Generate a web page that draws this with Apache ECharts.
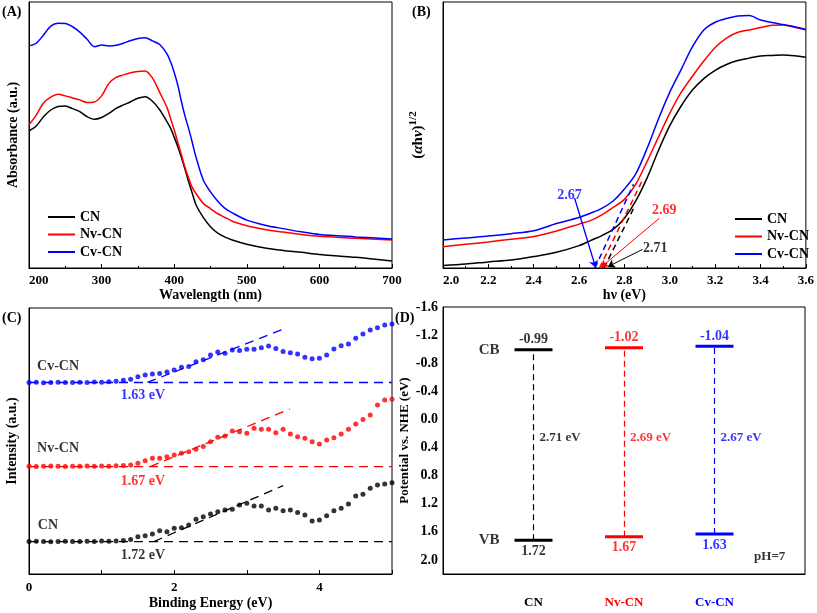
<!DOCTYPE html>
<html><head><meta charset="utf-8">
<script src="https://cdn.jsdelivr.net/npm/echarts@6/dist/echarts.min.js"></script>
<style>html,body{margin:0;padding:0;background:#fff;}#c{width:817px;height:613px;}</style>
</head><body><div id="c"></div>
<script>
// ---------- Shared ----------
const samples = ['CN', 'Nv-CN', 'Cv-CN'];
const colors = ['#000000', '#ff0000', '#0000ff'];

// ---------- Panel A : UV-vis absorbance ----------
const wavelength = [200,210,220,230,240,250,260,270,280,290,300,310,320,330,340,350,360,370,380,390,395,400,405,410,415,420,425,430,440,450,460,470,480,500,525,550,575,600,650,700];
const absCN = [51.6,53.4,56.9,59.4,60.7,60.9,59.9,58.8,56.9,55.9,56.6,58.1,60.0,61.3,62.5,63.8,64.4,62.7,59.5,55.0,52.6,49.2,45.6,41.5,37.0,32.3,28.0,23.8,19.0,15.5,13.1,11.6,10.5,8.9,7.5,6.6,5.9,5.1,4.0,2.6];
const absNv = [53.8,57.5,62.0,64.2,65.3,64.7,63.9,63.2,62.2,62.4,64.7,69.4,71.7,72.6,73.4,73.9,74.1,71.5,66.0,60.4,56.2,52.0,47.2,42.5,37.7,33.7,30.2,28.0,24.3,22.3,20.4,19.0,17.6,15.9,14.5,13.5,12.6,11.9,11.2,10.5];
const absCv = [83.5,84.5,87.6,90.9,92.0,91.9,90.7,88.7,86.0,83.2,83.8,83.5,83.7,84.5,85.5,86.3,86.6,85.4,84.0,80.5,77.5,73.5,68.7,62.5,57.0,52.3,47.1,41.7,33.1,28.6,25.1,22.4,20.7,18.0,16.1,14.8,13.6,12.6,11.7,10.9];

// ---------- Panel B : Tauc plot ----------
const photonEnergy = [2.0,2.1,2.2,2.3,2.4,2.5,2.6,2.65,2.7,2.75,2.8,2.85,2.9,2.95,3.0,3.05,3.1,3.15,3.2,3.25,3.3,3.35,3.4,3.45,3.5,3.55,3.6];
const taucCN = [0.9,1.5,2.3,3.0,4.3,5.9,8.4,10.3,12.2,14.5,18.7,25.2,33.9,44.2,53.5,60.9,66.9,71.2,74.3,76.5,78.0,78.9,79.7,79.9,80.1,79.8,79.2];
const taucNv = [8.0,8.9,9.8,10.8,11.8,13.9,16.5,17.8,20.0,22.8,25.8,31.5,40.1,49.2,58.2,66.0,72.1,77.8,82.9,86.4,88.6,89.5,90.4,91.3,91.4,90.5,89.5];
const taucCv = [10.5,11.3,12.0,12.9,14.0,16.7,19.0,20.6,22.4,25.2,29.7,35.4,45.0,56.0,66.1,74.6,83.2,89.5,92.4,93.8,94.7,94.9,93.2,92.3,91.5,90.7,89.7];
const bandGap = [2.71, 2.69, 2.67];
const tangentTopB = [[2.844, 23.0], [2.88, 33.1], [2.84, 31.5]];
const arrowFromB = [[2.88, 7.0], [2.954, 18.7], [2.58, 26.3]];
const arrowToB = [[2.727, 0.5], [2.697, 0.3], [2.673, 0.2]];
const gapLabelPosB = [[2.936, 7.5], [2.976, 21.8], [2.558, 27.4]];

// ---------- Panel C : VB-XPS ----------
const bindingEnergy = [0.0,0.1,0.2,0.3,0.4,0.5,0.6,0.7,0.8,0.9,1.0,1.1,1.2,1.3,1.4,1.5,1.6,1.7,1.8,1.9,2.0,2.1,2.2,2.3,2.4,2.5,2.6,2.7,2.8,2.9,3.0,3.1,3.2,3.3,3.4,3.5,3.6,3.7,3.8,3.9,4.0,4.1,4.2,4.3,4.4,4.5,4.6,4.7,4.8,4.9,5.0];
const xpsCN = [12.2,12.3,12.2,12.1,12.2,12.3,12.2,12.2,12.3,12.2,12.4,12.3,12.4,12.6,13.0,14.0,14.4,15.0,16.3,15.9,17.2,17.4,18.4,20.6,21.5,22.6,23.4,24.1,24.3,25.9,26.6,25.6,25.6,24.1,24.7,23.8,24.1,23.1,22.2,19.9,20.3,21.9,23.8,24.7,26.3,29.3,30.0,32.2,33.5,33.8,34.3];
const xpsNv = [40.5,40.4,40.5,40.6,40.5,40.4,40.5,40.5,40.6,40.5,40.6,40.5,40.7,40.8,41.0,41.6,42.6,43.5,43.5,44.1,44.7,45.4,46.0,46.9,47.9,49.7,51.4,51.9,53.8,53.5,52.9,54.8,54.4,54.4,53.1,54.4,52.6,51.6,51.0,49.7,48.9,50.4,51.2,52.6,54.4,56.4,58.1,59.8,63.5,65.4,65.7];
const xpsCv = [72.0,72.1,71.9,72.0,72.1,72.0,72.0,72.1,72.0,72.2,72.1,72.3,72.5,72.8,73.2,74.2,74.8,75.2,75.4,75.9,76.7,77.7,78.0,79.8,80.5,82.3,83.5,83.0,84.2,84.0,84.5,84.5,85.1,85.7,84.8,83.6,83.2,82.7,81.5,80.9,81.1,82.3,84.6,85.8,86.5,88.6,90.2,91.7,92.6,93.6,94.0];
const xpsBaseline = [12.2, 40.4, 72.0];
const vbOnset = [1.72, 1.67, 1.63];
const tangentEndC = [[3.50, 33.2], [3.59, 62.0], [3.50, 92.0]];
const sampleLabelPosC = [[0.26, 18.4], [0.40, 47.3], [0.40, 78.2]];
const onsetLabelPosC = [[1.57, 7.1], [1.57, 34.7], [1.57, 67.0]];

// ---------- Panel D : band structure ----------
const bandPos = [1, 2, 3];
const cbPotential = [-0.99, -1.02, -1.04];
const vbPotential = [1.72, 1.67, 1.63];
const gapLabelY = 0.26;

const FONT = "'Liberation Serif','Times New Roman',serif";
const txt = (size, color) => ({fontFamily: FONT, fontWeight: 'bold', fontSize: size, color: color || '#000'});
const zip = (xs, ys) => xs.map((x, i) => [x, ys[i]]);

const gridBase = {show: true, borderColor: '#000', borderWidth: 1, backgroundColor: '#fff', containLabel: false};
const grid = [
  Object.assign({left: 29, top: 2, width: 363, height: 266}, gridBase),
  Object.assign({left: 443, top: 2, width: 364, height: 266}, gridBase),
  Object.assign({left: 29, top: 308, width: 363, height: 266}, gridBase),
  Object.assign({left: 443, top: 307, width: 362, height: 267}, gridBase)
];

const axisLine = {show: true, onZero: false, lineStyle: {color: '#000', width: 1}};
const tickIn = {show: true, inside: true, length: 4, lineStyle: {color: '#000', width: 1}};

const xAxis = [
  {gridIndex: 0, type: 'value', min: 200, max: 700, interval: 100, axisLine, axisTick: tickIn,
   minorTick: {show: true, splitNumber: 2, length: 2, lineStyle: {color: '#000'}}, splitLine: {show: false},
   axisLabel: Object.assign({margin: 6, alignMinLabel: 'left'}, txt(13)),
   name: 'Wavelength (nm)', nameLocation: 'middle', nameGap: 18, nameTextStyle: txt(14)},
  {gridIndex: 1, type: 'value', min: 2.0, max: 3.6, interval: 0.2, axisLine, axisTick: tickIn,
   minorTick: {show: true, splitNumber: 2, length: 2, lineStyle: {color: '#000'}}, splitLine: {show: false},
   axisLabel: Object.assign({margin: 6, alignMinLabel: 'left', formatter: v => v.toFixed(1)}, txt(13)),
   name: 'hν (eV)', nameLocation: 'middle', nameGap: 18, nameTextStyle: txt(14)},
  {gridIndex: 2, type: 'value', min: 0, max: 5, interval: 1, axisLine, axisTick: tickIn, splitLine: {show: false},
   axisLabel: Object.assign({margin: 7, formatter: v => (Math.round(v) % 2 === 0 ? String(v) : '')}, txt(13)),
   name: 'Binding Energy (eV)', nameLocation: 'middle', nameGap: 22, nameTextStyle: txt(14)},
  {gridIndex: 3, type: 'value', min: 0, max: 4, interval: 1, axisLine, axisTick: {show: false}, splitLine: {show: false},
   axisLabel: Object.assign({margin: 22,
     formatter: v => { const i = bandPos.indexOf(v); return i < 0 ? '' : '{s' + i + '|' + samples[i] + '}'; },
     rich: {s0: txt(13, colors[0]), s1: txt(13, colors[1]), s2: txt(13, colors[2])}}, txt(13))}
];

const yAxis = [
  {gridIndex: 0, type: 'value', min: 0, max: 100, axisLine, axisTick: {show: false}, axisLabel: {show: false}, splitLine: {show: false},
   name: 'Absorbance (a.u.)', nameLocation: 'middle', nameGap: 9, nameTextStyle: txt(14)},
  {gridIndex: 1, type: 'value', min: 0, max: 100, axisLine, axisTick: {show: false}, axisLabel: {show: false}, splitLine: {show: false},
   name: '({it|α}h{it|ν}){sup|1/2}', nameLocation: 'middle', nameGap: 15,
   nameTextStyle: Object.assign({rich: {
     it: {fontFamily: FONT, fontWeight: 'bold', fontStyle: 'italic', fontSize: 15, color: '#000'},
     sup: {fontFamily: FONT, fontWeight: 'bold', fontSize: 11, color: '#000', padding: [0, 0, 9, 0]}
   }}, txt(15))},
  {gridIndex: 2, type: 'value', min: 0, max: 100, axisLine, axisTick: {show: false}, axisLabel: {show: false}, splitLine: {show: false},
   name: 'Intensity (a.u.)', nameLocation: 'middle', nameGap: 10, nameTextStyle: txt(14)},
  {gridIndex: 3, type: 'value', inverse: true, min: -1.6, max: 2.2, interval: 0.4, axisLine, axisTick: {show: false}, splitLine: {show: false},
   axisLabel: Object.assign({margin: 5, showMaxLabel: false, formatter: v => v.toFixed(1)}, txt(14)),
   name: 'Potential vs. NHE (eV)', nameLocation: 'middle', nameGap: 32, nameTextStyle: txt(13)}
];

const series = [];
const labelItem = (pos, text, color, extra) => ({value: pos, label: Object.assign({show: true, formatter: text, position: 'inside'}, txt(14, color), extra || {})});

// Panel A
[absCN, absNv, absCv].forEach((d, i) => series.push({
  name: samples[i], type: 'line', xAxisIndex: 0, yAxisIndex: 0, data: zip(wavelength, d),
  showSymbol: false, smooth: 0.3, lineStyle: {color: colors[i], width: 1.5}, itemStyle: {color: colors[i]}
}));

// Panel B
[taucCN, taucNv, taucCv].forEach((d, i) => series.push({
  name: samples[i], type: 'line', xAxisIndex: 1, yAxisIndex: 1, data: zip(photonEnergy, d),
  showSymbol: false, smooth: 0.3, lineStyle: {color: colors[i], width: 1.5}, itemStyle: {color: colors[i]}
}));
bandGap.forEach((g, i) => series.push({
  type: 'line', xAxisIndex: 1, yAxisIndex: 1, data: [[g, 0], tangentTopB[i]], showSymbol: false, silent: true,
  lineStyle: {color: colors[i], width: 1.5, type: [6, 4]},
  markLine: {silent: true, animation: false, symbol: ['none', 'arrow'], symbolSize: 7, label: {show: false},
    lineStyle: {color: colors[i], width: i === 2 ? 1.3 : 1, type: 'solid'},
    data: [[{coord: arrowFromB[i]}, {coord: arrowToB[i]}]]}
}));
series.push({
  type: 'scatter', xAxisIndex: 1, yAxisIndex: 1, symbolSize: 0, silent: true,
  data: bandGap.map((g, i) => labelItem(gapLabelPosB[i], g.toFixed(2), colors[i]))
});

// Panel C
[xpsCN, xpsNv, xpsCv].forEach((d, i) => {
  series.push({type: 'scatter', xAxisIndex: 2, yAxisIndex: 2, data: zip(bindingEnergy, d), symbolSize: 5,
    itemStyle: {color: colors[i]}, silent: true});
  series.push({type: 'line', xAxisIndex: 2, yAxisIndex: 2, data: [[0, xpsBaseline[i]], [5, xpsBaseline[i]]],
    showSymbol: false, silent: true, lineStyle: {color: colors[i], width: 1.3, type: [9, 6]}});
  series.push({type: 'line', xAxisIndex: 2, yAxisIndex: 2, data: [[vbOnset[i], xpsBaseline[i]], tangentEndC[i]],
    showSymbol: false, silent: true, lineStyle: {color: colors[i], width: 1.3, type: [9, 6]}});
});
series.push({
  type: 'scatter', xAxisIndex: 2, yAxisIndex: 2, symbolSize: 0, silent: true,
  data: samples.map((s, i) => labelItem(sampleLabelPosC[i], s, '#000'))
    .concat(vbOnset.map((v, i) => labelItem(onsetLabelPosC[i], v.toFixed(2) + ' eV', colors[i])))
});

// Panel D
const halfW = 0.21;
bandPos.forEach((p, i) => {
  series.push({type: 'line', xAxisIndex: 3, yAxisIndex: 3, data: [[p - halfW, cbPotential[i]], [p + halfW, cbPotential[i]]],
    showSymbol: false, silent: true, lineStyle: {color: colors[i], width: 3},
    markLine: {silent: true, animation: false, symbol: ['none', 'arrow'], symbolSize: [0, 8], label: {show: false},
      lineStyle: {color: colors[i], width: 1.2, type: [6, 4]},
      data: [[{coord: [p, vbPotential[i]]}, {coord: [p, cbPotential[i]]}]]}});
  series.push({type: 'line', xAxisIndex: 3, yAxisIndex: 3, data: [[p - halfW, vbPotential[i]], [p + halfW, vbPotential[i]]],
    showSymbol: false, silent: true, lineStyle: {color: colors[i], width: 3}});
});
series.push({
  type: 'scatter', xAxisIndex: 3, yAxisIndex: 3, symbolSize: 0, silent: true,
  data: [].concat(
    bandPos.map((p, i) => labelItem([p, cbPotential[i]], cbPotential[i].toFixed(2), colors[i], {position: 'top', distance: 3, fontSize: 14})),
    bandPos.map((p, i) => labelItem([p, vbPotential[i]], vbPotential[i].toFixed(2), colors[i], {position: 'bottom', distance: 4, fontSize: 14})),
    bandPos.map((p, i) => labelItem([p, gapLabelY], bandGap[i].toFixed(2) + ' eV', colors[i], {position: 'right', distance: 6, fontSize: 13})),
    [labelItem([0.51, cbPotential[0]], 'CB', '#000', {fontSize: 15}),
     labelItem([0.51, vbPotential[0]], 'VB', '#000', {fontSize: 15}),
     labelItem([3.61, 1.96], 'pH=7', '#000', {fontSize: 13})]
  )
});

const legendBase = {orient: 'vertical', icon: 'rect', itemWidth: 27, itemHeight: 2, itemGap: 3.5, selectedMode: false,
  textStyle: txt(14), data: samples};

const option = {
  animation: false,
  backgroundColor: '#fff',
  grid, xAxis, yAxis, series,
  legend: [Object.assign({left: 43, top: 205}, legendBase), Object.assign({left: 730, top: 207}, legendBase)],
  graphic: [
    {type: 'text', left: 2, top: 5, style: {text: '(A)', font: 'bold 14px ' + FONT, fill: '#000'}},
    {type: 'text', left: 412, top: 5, style: {text: '(B)', font: 'bold 14px ' + FONT, fill: '#000'}},
    {type: 'text', left: 2, top: 311, style: {text: '(C)', font: 'bold 14px ' + FONT, fill: '#000'}},
    {type: 'text', left: 395, top: 311, style: {text: '(D)', font: 'bold 14px ' + FONT, fill: '#000'}}
  ]
};
const chart = echarts.init(document.getElementById('c'), null, {renderer: 'canvas'});
chart.setOption(option);
</script></body></html>
